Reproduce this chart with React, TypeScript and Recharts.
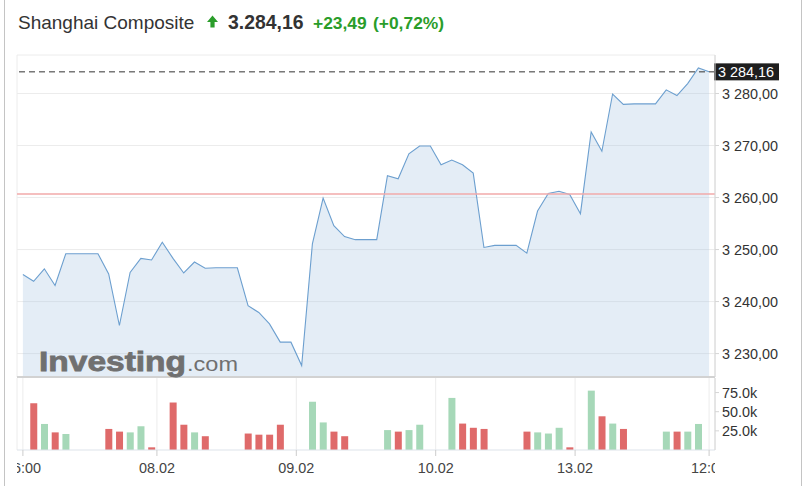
import { ComposedChart, Area, XAxis, YAxis, CartesianGrid, ReferenceLine, BarChart, Bar, Cell } from 'recharts';

const indexName = 'Shanghai Composite';
const lastPrice = 3284.16;
const priceChange = 23.49;
const changePct = 0.72;
const prevClose = 3260.67;

// price per interval, 07.02 16:00 -> 14.02 12:00
const prices = [
  3245.2, 3243.9, 3246.3, 3243.1, 3249.2, 3249.2, 3249.2, 3249.2, 3245.3, 3235.4,
  3245.6, 3248.3, 3248.0, 3251.4, 3248.3, 3245.5, 3247.6, 3246.4, 3246.5, 3246.5,
  3246.5, 3239.2, 3237.9, 3235.7, 3232.2, 3232.2, 3227.7, 3251.1, 3259.9, 3254.6,
  3252.5, 3251.9, 3251.9, 3251.9, 3264.2, 3263.6, 3268.4, 3269.9, 3269.9, 3266.3,
  3267.2, 3266.3, 3264.7, 3250.4, 3250.8, 3250.8, 3250.8, 3249.3, 3257.4, 3260.8,
  3261.2, 3260.6, 3256.9, 3272.6, 3268.9, 3279.9, 3277.9, 3278.0, 3278.0, 3278.0,
  3280.7, 3279.6, 3281.9, 3284.9, 3284.16,
];

const volumes = [
  null, 61000, 34000, 23000, 21000, null, null, null, 27500, 24000,
  23000, 31000, 3500, null, 62000, 33000, 23000, 18000, null, null,
  null, 21500, 20000, 20000, 33000, null, null, 63000, 36000, 24000,
  18000, null, null, null, 26000, 24000, 26000, 33000, null, null,
  68000, 34500, 29000, 27500, null, null, null, 24000, 23000, 21500,
  29000, 3500, null, 77500, 44000, 34500, 27500, null, null, null,
  24000, 24000, 24000, 34000, null,
];

const xTicks = [0, 12.5, 25.5, 38.5, 51.5, 64];
const xTickLabels = ['16:00', '08.02', '09.02', '10.02', '13.02', '12:00'];
const priceTicks = [3230, 3240, 3250, 3260, 3270, 3280];
const volumeTicks = [25000, 50000, 75000];

const rows = prices.map((p, i) => ({
  i,
  price: p,
  volume: volumes[i],
  up: i === 0 ? true : p >= prices[i - 1],
}));

const FONT = 'Arial, "Liberation Sans", sans-serif';
const W = 807;
const PLOT_LEFT = 17;
const AXIS_W = 92;
const X_DOMAIN = [-0.55, 64.55];
const GREEN = '#2a9d2a';

function fmtPrice(v: number, sep = ' ', dec = ',') {
  const [a, b] = v.toFixed(2).split('.');
  return a.replace(/\B(?=(\d{3})+(?!\d))/g, sep) + dec + b;
}

function XTick(props: any) {
  const { x, y, payload } = props;
  const idx = xTicks.indexOf(payload.value);
  return (
    <svg x={PLOT_LEFT} y={0} width={W - AXIS_W - PLOT_LEFT} height={120} overflow="hidden">
      <text x={x - PLOT_LEFT} y={y + 14.5} textAnchor="middle" fill="#444" fontSize={14.4} fontFamily={FONT}>
        {xTickLabels[idx]}
      </text>
    </svg>
  );
}

function PriceTag(props: any) {
  const vb = props.viewBox;
  const x = vb.x + vb.width - 1;
  return (
    <g>
      <rect x={x} y={vb.y - 8.5} width={65} height={17} fill="#1e1e1e" />
      <text x={x + 4} y={vb.y + 5} fill="#fff" fontSize={14.4} fontFamily={FONT}>
        {fmtPrice(lastPrice)}
      </text>
    </g>
  );
}

export default function App() {
  const axisTick = { fill: '#333', fontSize: 14.4, fontFamily: FONT };
  return (
    <div style={{ position: 'absolute', left: 0, top: 0, width: W, height: 486, background: '#fff', overflow: 'hidden' }}>
      <div style={{ position: 'absolute', left: 4, top: -1, width: 798, height: 500, boxSizing: 'border-box', border: '1px solid #c4c4c4' }} />

      <svg style={{ position: 'absolute', left: 0, top: 0 }} width={W} height={45}>
        <text x={18} y={28.5} fontSize={19} fill="#333" fontFamily={FONT}>{indexName}</text>
        <polygon points="207,22 212.5,15.5 218,22 214.6,22 214.6,27.5 210.4,27.5 210.4,22" fill={GREEN} />
        <text x={228} y={28.5} fontSize={19.4} fontWeight="bold" fill="#333" fontFamily={FONT}>{fmtPrice(lastPrice, '.', ',')}</text>
        <text x={313} y={28.5} fontSize={17.4} fontWeight="bold" fill={GREEN} fontFamily={FONT}>+{fmtPrice(priceChange)}</text>
        <text x={373} y={28.5} fontSize={17.4} fontWeight="bold" fill={GREEN} fontFamily={FONT}>(+{fmtPrice(changePct)}%)</text>
      </svg>

      <div style={{ position: 'absolute', left: 0, top: 0 }}>
        <ComposedChart width={W} height={380} data={rows} margin={{ top: 55, right: 0, bottom: 0, left: PLOT_LEFT }}>
          <CartesianGrid stroke="#ececec" />
          <XAxis dataKey="i" type="number" domain={X_DOMAIN} allowDataOverflow ticks={xTicks} height={3} tick={false} tickLine={false} axisLine={{ stroke: '#d2d2d2', strokeWidth: 2 }} />
          <YAxis orientation="right" width={AXIS_W} domain={[3225.5, 3287.4]} allowDataOverflow ticks={priceTicks} interval={0} tickFormatter={(v) => fmtPrice(v)} tick={axisTick} tickSize={4} tickMargin={3} axisLine={{ stroke: '#d6d6d6' }} tickLine={{ stroke: '#d6d6d6' }} />
          <Area dataKey="price" type="linear" stroke="#6c9fcf" strokeWidth={1.1} fill="#9fc0e0" fillOpacity={0.28} dot={false} activeDot={false} isAnimationActive={false} />
          <ReferenceLine y={prevClose} stroke="#f2aaaa" strokeWidth={1.5} />
          <ReferenceLine y={lastPrice} stroke="#333" strokeDasharray="6 4" label={PriceTag} />
        </ComposedChart>
      </div>

      <div style={{ position: 'absolute', left: 0, top: 378 }}>
        <BarChart width={W} height={108} data={rows} margin={{ top: 0, right: 0, bottom: 0, left: PLOT_LEFT }}>
          <CartesianGrid horizontal={false} stroke="#ececec" />
          <XAxis dataKey="i" type="number" domain={X_DOMAIN} allowDataOverflow ticks={xTicks} interval={0} height={36} tick={<XTick />} tickSize={6} tickLine={{ stroke: '#ccc' }} axisLine={{ stroke: '#dde3ea' }} />
          <YAxis orientation="right" width={AXIS_W} domain={[0, 94000]} allowDataOverflow ticks={volumeTicks} interval={0} tickFormatter={(v) => (v / 1000).toFixed(1) + 'k'} tick={axisTick} tickSize={4} tickMargin={3} axisLine={{ stroke: '#d6d6d6' }} tickLine={{ stroke: '#d6d6d6' }} />
          <Bar dataKey="volume" barSize={7} isAnimationActive={false}>
            {rows.map((r) => (
              <Cell key={r.i} fill={r.up ? '#a6d8b8' : '#df6a6a'} />
            ))}
          </Bar>
        </BarChart>
      </div>

      <svg style={{ position: 'absolute', left: 0, top: 330, pointerEvents: 'none' }} width={260} height={60}>
        <text x={39} y={41} fontSize={27} fontWeight="bold" fill="#707070" stroke="#707070" strokeWidth={0.8} fontFamily={FONT} textLength={147} lengthAdjust="spacingAndGlyphs">Investing</text>
        <text x={187} y={41} fontSize={21} fill="#707070" fontFamily={FONT} textLength={51} lengthAdjust="spacingAndGlyphs">.com</text>
      </svg>
    </div>
  );
}
